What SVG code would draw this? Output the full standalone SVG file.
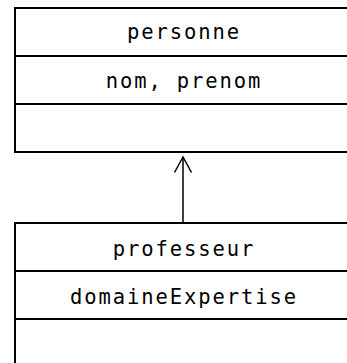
<svg xmlns="http://www.w3.org/2000/svg" width="347" height="363" viewBox="0 0 347 363">
  <style>
    .box { fill: #ffffff; stroke: #000000; stroke-width: 2; }
    .sep { stroke: #000000; stroke-width: 2; }
    .lbl { font-family: "DejaVu Sans Mono", "Liberation Mono", monospace; font-size: 20.5px; letter-spacing: 1.9px; fill: #000000; text-anchor: middle; }
    .edge { fill: none; stroke: #000000; stroke-width: 1.5; }
  </style>
  <rect width="347" height="363" fill="#ffffff"/>

  <!-- superclass -->
  <g id="personne">
    <rect class="box" x="15" y="8" width="336" height="144"/>
    <line class="sep" x1="15" y1="56" x2="351" y2="56"/>
    <line class="sep" x1="15" y1="104" x2="351" y2="104"/>
    <text class="lbl" x="184" y="39">personne</text>
    <text class="lbl" x="184" y="88">nom, prenom</text>
  </g>

  <!-- subclass -->
  <g id="professeur">
    <rect class="box" x="15" y="223" width="336" height="160"/>
    <line class="sep" x1="15" y1="271" x2="351" y2="271"/>
    <line class="sep" x1="15" y1="319" x2="351" y2="319"/>
    <text class="lbl" x="184" y="256">professeur</text>
    <text class="lbl" x="184" y="304">domaineExpertise</text>
  </g>

  <!-- inheritance link -->
  <g id="connectors">
    <line class="edge" x1="183" y1="222" x2="183" y2="157"/>
    <polyline class="edge" points="174.5,172.5 183,157 191.5,172.5"/>
  </g>
</svg>
